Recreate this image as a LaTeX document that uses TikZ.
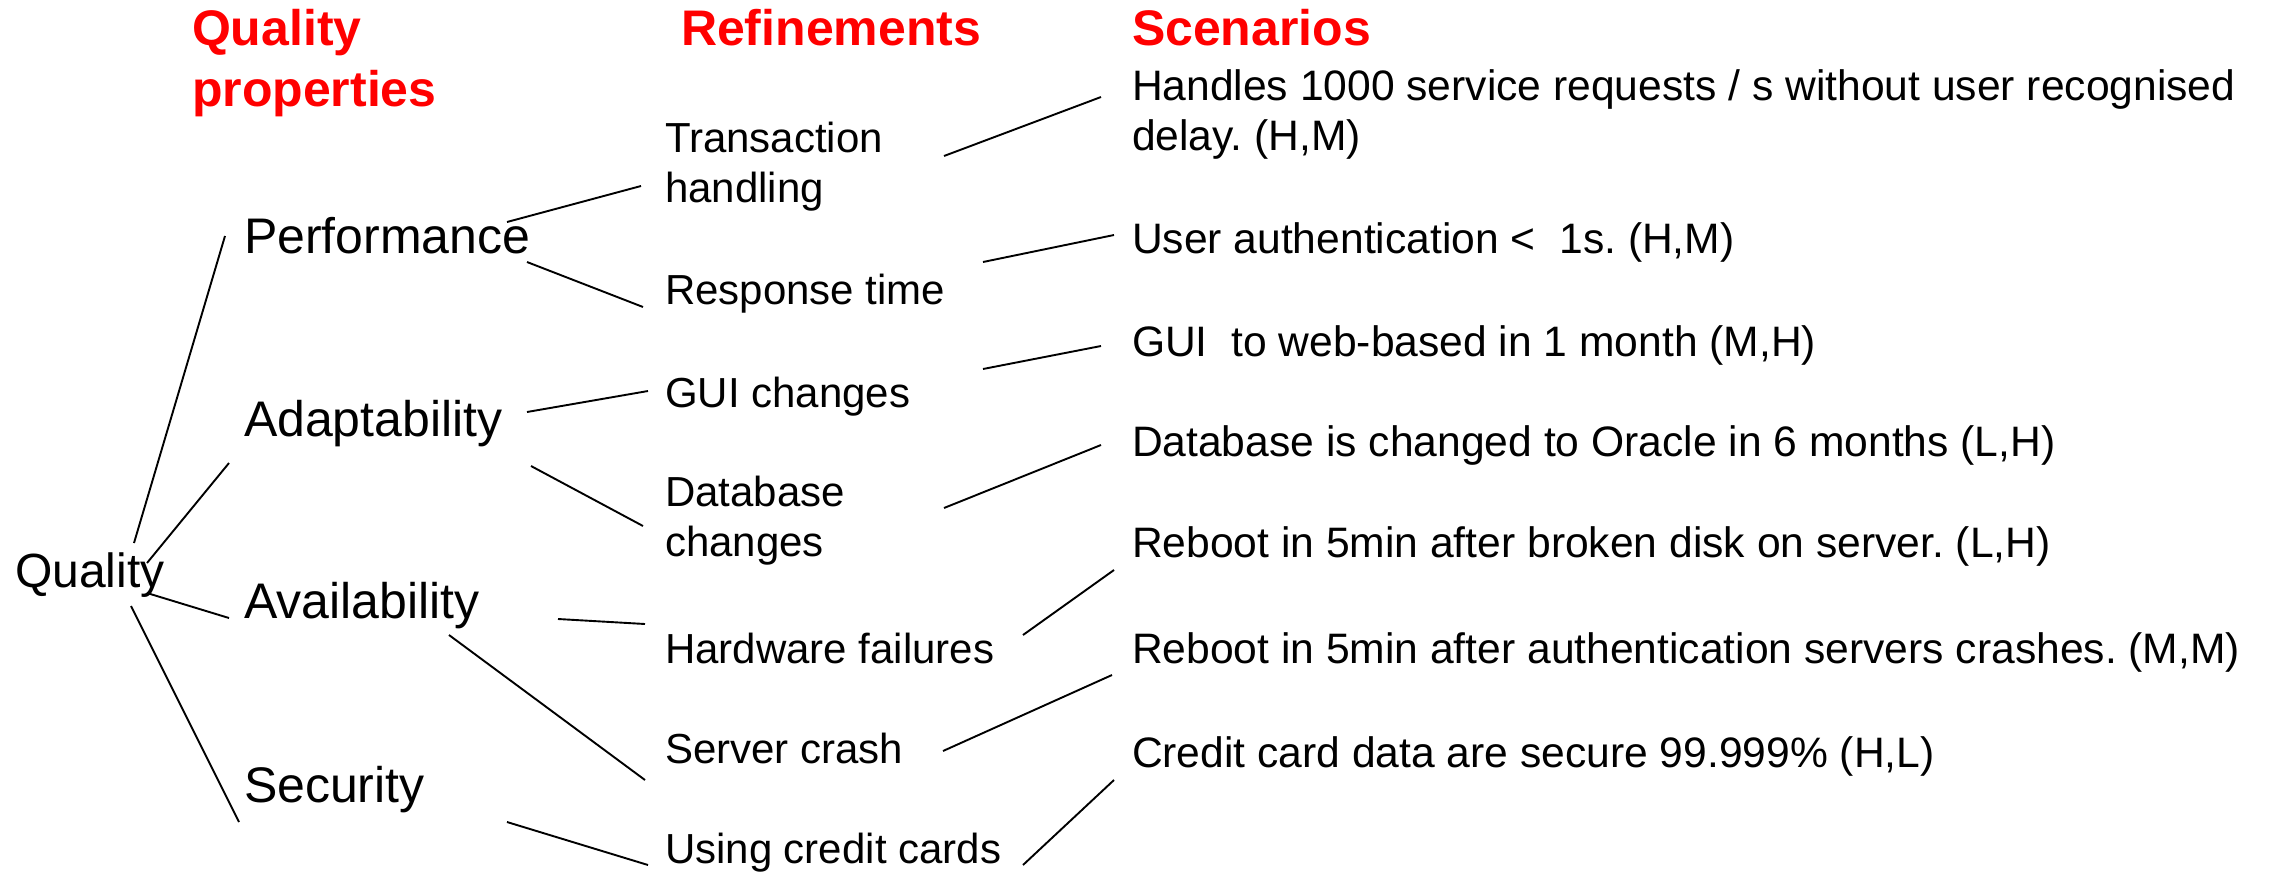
\documentclass[tikz,border=0pt]{standalone}
\usepackage{fontspec}
\setmainfont{Liberation Sans}
\frenchspacing
\begin{document}
\begin{tikzpicture}[x=1pt,y=-1pt,
  every node/.style={inner sep=0pt, outer sep=0pt, anchor=base west},
  head/.style={text=red, font=\bfseries\fontsize{50}{61}\selectfont, align=left},
  prop/.style={font=\fontsize{50}{60}\selectfont},
  root/.style={font=\fontsize{48}{58}\selectfont},
  refi/.style={font=\fontsize{42}{50}\selectfont, align=left},
  scen/.style={font=\fontsize{42.6}{50}\selectfont, align=left},
  link/.style={line width=1.9pt, black}]
\useasboundingbox (0,0) rectangle (2272,876);
% headings (multi-line nodes: base = last line)
\node[head] (hprop) at (192,106) {Quality\\properties};
\node[head] (hrefi) at (681,45) {Refinements};
\node[head] (hscen) at (1132,45) {Scenarios};
% root
\node[root] (q) at (15,587) {Quality};
% properties
\node[prop] (perf) at (244,253) {Performance};
\node[prop] (adapt) at (244,436) {Adaptability};
\node[prop] (avail) at (244,618) {Availability};
\node[prop] (sec) at (244,802) {Security};
% refinements
\node[refi] (trans) at (665,202) {Transaction\\handling};
\node[refi] (resp) at (665,304) {Response time};
\node[refi] (gui) at (665,407) {GUI changes};
\node[refi] (db) at (665,556) {Database\\changes};
\node[refi] (hw) at (665,663) {Hardware failures};
\node[refi] (srv) at (665,763) {Server crash};
\node[refi] (card) at (665,863) {Using credit cards};
% scenarios
\node[scen] (s1) at (1132,150) {Handles 1000 service requests / s without user recognised\\delay. (H,M)};
\node[scen] (s2) at (1132,253) {User authentication <\ \ 1s. (H,M)};
\node[scen] (s3) at (1132,356) {GUI\ \ to web-based in 1 month (M,H)};
\node[scen] (s4) at (1132,456) {Database is changed to Oracle in 6 months (L,H)};
\node[scen] (s5) at (1132,557) {Reboot in 5min after broken disk on server. (L,H)};
\node[scen] (s6) at (1132,663) {Reboot in 5min after authentication servers crashes. (M,M)};
\node[scen] (s7) at (1132,767) {Credit card data are secure 99.999\% (H,L)};
% connectors
\draw[link] ([shift={(119,-44)}]q.base west) -- ([shift={(-19,-17)}]perf.base west);
\draw[link] ([shift={(132,-24)}]q.base west) -- ([shift={(-15,27)}]adapt.base west);
\draw[link] ([shift={(132,6)}]q.base west) -- ([shift={(-15,0)}]avail.base west);
\draw[link] ([shift={(116,19)}]q.base west) -- ([shift={(-5,20)}]sec.base west);
\draw[link] ([shift={(263,-31)}]perf.base west) -- ([shift={(-24,-16)}]trans.base west);
\draw[link] ([shift={(283,9)}]perf.base west) -- ([shift={(-22,3)}]resp.base west);
\draw[link] ([shift={(283,-24)}]adapt.base west) -- ([shift={(-17,-16)}]gui.base west);
\draw[link] ([shift={(287,30)}]adapt.base west) -- ([shift={(-22,-30)}]db.base west);
\draw[link] ([shift={(314,1)}]avail.base west) -- ([shift={(-20,-39)}]hw.base west);
\draw[link] ([shift={(205,17)}]avail.base west) -- ([shift={(-20,17)}]srv.base west);
\draw[link] ([shift={(263,20)}]sec.base west) -- ([shift={(-17,2)}]card.base west);
\draw[link] ([shift={(279,-46)}]trans.base west) -- ([shift={(-31,-53)}]s1.base west);
\draw[link] ([shift={(318,-42)}]resp.base west) -- ([shift={(-18,-18)}]s2.base west);
\draw[link] ([shift={(318,-38)}]gui.base west) -- ([shift={(-31,-10)}]s3.base west);
\draw[link] ([shift={(279,-48)}]db.base west) -- ([shift={(-31,-11)}]s4.base west);
\draw[link] ([shift={(358,-28)}]hw.base west) -- ([shift={(-18,13)}]s5.base west);
\draw[link] ([shift={(278,-12)}]srv.base west) -- ([shift={(-20,12)}]s6.base west);
\draw[link] ([shift={(358,2)}]card.base west) -- ([shift={(-18,13)}]s7.base west);
\end{tikzpicture}
\end{document}
